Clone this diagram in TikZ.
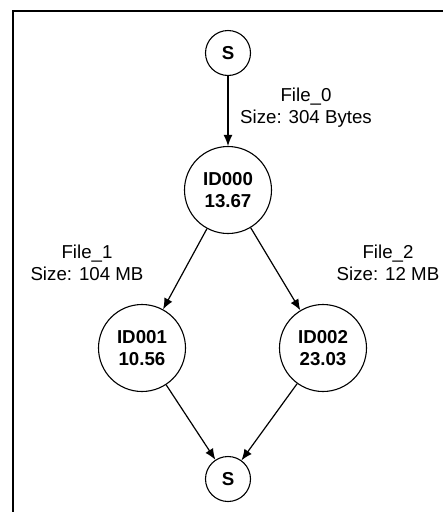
\documentclass[tikz,border=0pt]{standalone}
\usepackage{fontspec}
\setmainfont{Liberation Sans}
\usetikzlibrary{arrows.meta}
\begin{document}
\begin{tikzpicture}[x=1pt,y=-1pt,
  every node/.style={font=\fontsize{18.7}{22}\selectfont},
  task/.style={draw, line width=1.1pt, circle, inner sep=0pt, minimum size=87pt, align=center, font=\fontsize{18.7}{22}\selectfont\bfseries},
  term/.style={draw, line width=1.1pt, circle, inner sep=0pt, minimum size=45pt, font=\fontsize{18.7}{22}\selectfont\bfseries},
  flow/.style={draw, line width=1.2pt, -{Latex[length=11pt,width=9pt]}},
  info/.style={align=center, inner sep=0pt}
]
\useasboundingbox (0,0) rectangle (443,512);
% page frame
\draw[line width=1.6pt] (13,512) -- (13,11) -- (443,11);

% nodes
\node[term] (s0) at (228,53) {S};
\node[task] (t0) at (228,190) {ID000\\13.67};
\node[task] (t1) at (142,348) {ID001\\10.56};
\node[task] (t2) at (323,348) {ID002\\23.03};
\node[term] (s1) at (228,479) {S};

% edges
\draw[flow] (s0) -- (t0);
\draw[flow] (t0) -- (t1);
\draw[flow] (t0) -- (t2);
\draw[flow] (t1) -- (s1);
\draw[flow] (t2) -- (s1);

% file labels
\node[info] (f0) at (306,108) {File\_0\\Size: 304 Bytes};
\node[info] (f1) at (87,263) {File\_1\\Size: 104 MB};
\node[info] (f2) at (388,263) {File\_2\\Size: 12 MB};
\end{tikzpicture}
\end{document}
